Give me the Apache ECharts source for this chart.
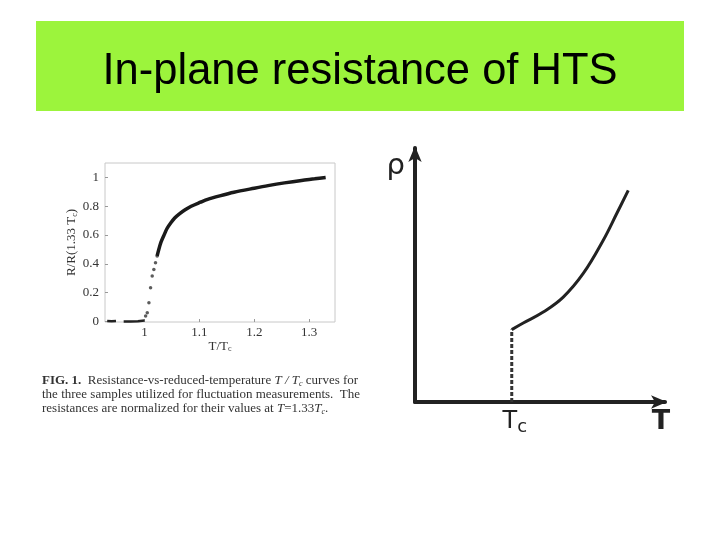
<!DOCTYPE html>
<html>
<head>
<meta charset="utf-8">
<script src="https://cdn.jsdelivr.net/npm/echarts@6/dist/echarts.min.js"></script>
<style>html,body{margin:0;padding:0;background:#fff}#main{width:720px;height:540px}</style>
</head>
<body>
<div id="main"></div>
<script>
// ---- Data: left panel (measured R/R(1.33Tc) vs T/Tc) ----
var lowT = [0.932, 0.940, 0.948, null, 0.962, 0.975, 0.988, 1.000];
var lowR = [0.003, 0.002, 0.003, null, 0.000, 0.000, 0.001, 0.006];
var transT = [1.002, 1.005, 1.008, 1.011, 1.014, 1.017, 1.020, 1.023];
var transR = [0.037, 0.060, 0.130, 0.234, 0.315, 0.360, 0.408, 0.455];
var highT = [1.023, 1.026, 1.030, 1.035, 1.041, 1.048, 1.055, 1.063, 1.074, 1.085, 1.102, 1.115, 1.137, 1.163, 1.200, 1.225, 1.255, 1.286, 1.310, 1.330];
var highR = [0.455, 0.500, 0.550, 0.595, 0.645, 0.685, 0.718, 0.745, 0.775, 0.800, 0.828, 0.848, 0.872, 0.897, 0.925, 0.943, 0.962, 0.979, 0.990, 1.000];
var leftXTicks = [1, 1.1, 1.2, 1.3];
var leftYTicks = [0, 0.2, 0.4, 0.6, 0.8, 1];

// ---- Data: right panel (schematic rho vs T) ----
var tcValue = 38.7;
var schemT = [38.7, 43.3, 51.3, 59.3, 67.3, 75.3, 80.7, 85.3];
var schemRho = [28.5, 31.1, 35.4, 41.3, 50.6, 63.7, 74.2, 83.3];

var titleText = 'In-plane resistance of HTS';

function zip(a, b) {
  var out = [];
  for (var i = 0; i < a.length; i++) out.push(a[i] === null ? [null, null] : [a[i], b[i]]);
  return out;
}

var serif = '"Liberation Serif", "DejaVu Serif", serif';
var sans = '"Liberation Sans", Arial, sans-serif';
var dv = '"DejaVu Sans", "Liberation Sans", sans-serif';

var chart = echarts.init(document.getElementById('main'), null, {renderer: 'canvas'});
chart.setOption({
  backgroundColor: '#ffffff',
  animation: false,
  title: {
    text: titleText,
    left: 'center',
    top: 45,
    textStyle: {fontFamily: sans, fontSize: 43.5, fontWeight: 'normal', color: '#000'}
  },
  graphic: [
    {type: 'rect', z: -1, shape: {x: 36, y: 21, width: 648, height: 90}, style: {fill: '#9cf43c'}},
    {type: 'text', left: 42, top: 374,
      style: {
        text: '{b|FIG. 1.}  Resistance-vs-reduced-temperature {i|T / T}{s|c} curves for\nthe three samples utilized for fluctuation measurements.  The\nresistances are normalized for their values at {i|T}=1.33{i|T}{s|c}.',
        font: '13px ' + serif, fill: '#333', lineHeight: 14,
        rich: {
          b: {fontFamily: serif, fontSize: 13, fontWeight: 'bold', fill: '#333', lineHeight: 14},
          i: {fontFamily: serif, fontSize: 13, fontStyle: 'italic', fill: '#333', lineHeight: 14},
          s: {fontFamily: serif, fontSize: 8, fontStyle: 'italic', fill: '#333', lineHeight: 14, padding: [5, 0, 0, 0]}
        }
      }}
  ],
  grid: [
    {left: 105, top: 163, width: 230, height: 159, show: true, borderColor: '#c8c8c8', borderWidth: 1, backgroundColor: 'transparent'},
    {left: 415, top: 148, width: 250, height: 254}
  ],
  xAxis: [
    {gridIndex: 0, type: 'value', min: 0.928, max: 1.347,
      axisLine: {show: false, onZero: false}, splitLine: {show: false},
      axisTick: {show: true, inside: true, length: 3, customValues: leftXTicks, lineStyle: {color: '#999'}},
      axisLabel: {customValues: leftXTicks, margin: 4, fontFamily: serif, fontSize: 13, color: '#333',
        formatter: function (v) { return v === 1 ? '1' : v.toFixed(1); }},
      name: '{n|T/T}{s|c}', nameLocation: 'middle', nameGap: 16,
      nameTextStyle: {rich: {n: {fontFamily: serif, fontSize: 13, color: '#333'}, s: {fontFamily: serif, fontSize: 8, color: '#333', padding: [6, 0, 0, 0]}}}
    },
    {gridIndex: 1, type: 'value', min: 0, max: 100,
      axisLine: {show: true, lineStyle: {color: '#222', width: 4}, symbol: ['none', 'arrow'], symbolSize: [10, 16], symbolOffset: [0, 2]},
      axisTick: {show: false}, splitLine: {show: false},
      axisLabel: {customValues: [tcValue], margin: 6, formatter: function () { return '{t|T}{c|c}'; },
        rich: {t: {fontFamily: dv, fontSize: 24, color: '#222', padding: [0, 0, 0, 6]}, c: {fontFamily: dv, fontSize: 18, color: '#222', padding: [10, 0, 0, 0]}}},
      name: 'T', nameLocation: 'end', nameGap: -4,
      nameTextStyle: {fontFamily: dv, fontSize: 27, fontWeight: 'bold', color: '#222', align: 'center', verticalAlign: 'top', padding: [6, 0, 0, 0]}
    }
  ],
  yAxis: [
    {gridIndex: 0, type: 'value', min: -0.004, max: 1.1,
      axisLine: {show: false, onZero: false}, splitLine: {show: false},
      axisTick: {show: true, inside: true, length: 3, customValues: leftYTicks, lineStyle: {color: '#999'}},
      axisLabel: {customValues: leftYTicks, margin: 6, fontFamily: serif, fontSize: 13, color: '#333',
        formatter: function (v) { return (v === 0 || v === 1) ? String(v) : v.toFixed(1); }},
      name: '{n|R/R(1.33 T}{s|c}{n|)}', nameLocation: 'middle', nameGap: 21, nameRotate: 90,
      nameTextStyle: {rich: {n: {fontFamily: serif, fontSize: 13, color: '#333'}, s: {fontFamily: serif, fontSize: 8, color: '#333', padding: [6, 0, 0, 0]}}}
    },
    {gridIndex: 1, type: 'value', min: 0, max: 100,
      axisLine: {show: true, lineStyle: {color: '#222', width: 4}, symbol: ['none', 'arrow'], symbolSize: [10, 16], symbolOffset: [0, 2]},
      axisTick: {show: false}, splitLine: {show: false}, axisLabel: {show: false},
      name: 'ρ', nameLocation: 'end', nameGap: -4,
      nameTextStyle: {fontFamily: dv, fontSize: 29, color: '#222', align: 'right', verticalAlign: 'top', padding: [0, 10, 0, 0]}
    }
  ],
  series: [
    {type: 'line', xAxisIndex: 0, yAxisIndex: 0, data: zip(lowT, lowR), showSymbol: false, connectNulls: false, clip: false,
      lineStyle: {color: '#222', width: 2.5}},
    {type: 'scatter', xAxisIndex: 0, yAxisIndex: 0, data: zip(transT, transR), symbolSize: 3.5,
      itemStyle: {color: '#333'}},
    {type: 'line', xAxisIndex: 0, yAxisIndex: 0, data: zip(highT, highR), showSymbol: false, smooth: 0.3,
      lineStyle: {color: '#1a1a1a', width: 3.5}},
    {type: 'line', xAxisIndex: 1, yAxisIndex: 1, data: [[tcValue, 0], [tcValue, schemRho[0]]], showSymbol: false,
      lineStyle: {color: '#333', width: 3, type: [4, 2]}},
    {type: 'line', xAxisIndex: 1, yAxisIndex: 1, data: zip(schemT, schemRho), showSymbol: false, smooth: 0.4,
      lineStyle: {color: '#222', width: 3}}
  ]
});
</script>
</body>
</html>
